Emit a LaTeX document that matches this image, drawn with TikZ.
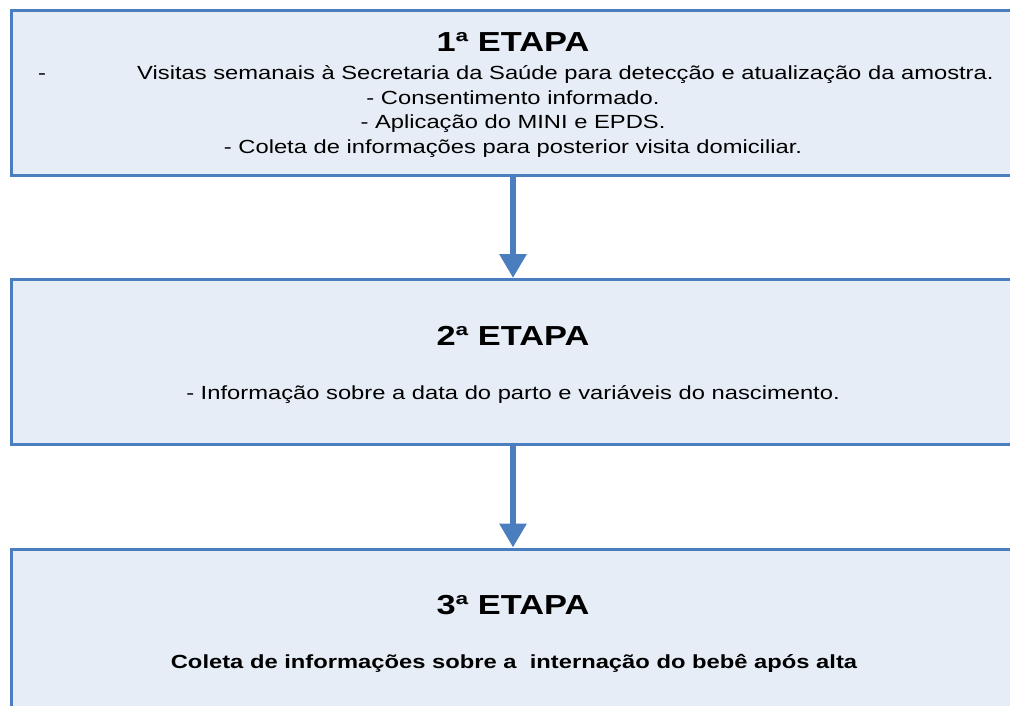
\documentclass[tikz,border=0pt]{standalone}
\usepackage{fontspec}
\setmainfont{Liberation Sans}[FakeStretch=1.25]
\usepackage{tikz}
\usetikzlibrary{arrows.meta,positioning}
\definecolor{caixa}{RGB}{230,237,246}
\definecolor{borda}{RGB}{74,126,191}

\begin{document}
\begin{tikzpicture}[x=1pt,y=-1pt,
 etapa/.style = {draw=borda, fill=caixa, line width=3pt, minimum width=1004pt,
  minimum height=165pt, inner sep=0pt},
 titulo/.style = {anchor=base, inner sep=0pt, font=\fontsize{27.5pt}{30pt}\selectfont\bfseries},
 texto/.style = {anchor=base, inner sep=0pt, font=\fontsize{19pt}{23pt}\selectfont},
 seta/.style = {draw=borda, line width=6.5pt, line cap=round, -{Triangle[width=26pt,length=24pt]}}]
\useasboundingbox (0,0) rectangle (1010,706);
\node[etapa] (e1) at (513,93.5) {};
\node[etapa] (e2) at (513,362) {};
\node[etapa] (e3) at (513,631.5) {};
% primeira etapa
\node[titulo] (t1) at (513,52) {1ª ETAPA};
\node[texto] (traco) at (42,80) {-};
\node[texto, anchor=base west] (l1) at (137,80) {Visitas semanais à Secretaria da Saúde para detecção e atualização da amostra.};
\node[texto] (l2) at (513,105) {- Consentimento informado.};
\node[texto] (l3) at (513,129) {- Aplicação do MINI e EPDS.};
\node[texto] (l4) at (513,154) {- Coleta de informações para posterior visita domiciliar.};
% segunda etapa
\node[titulo] (t2) at (513,345) {2ª ETAPA};
\node[texto] (l5) at (513,399) {- Informação sobre a data do parto e variáveis do nascimento.};
% terceira etapa
\node[titulo] (t3) at (513,614) {3ª ETAPA};
\node[texto, font=\fontsize{19pt}{22pt}\selectfont\bfseries] (l6) at (514,668) {Coleta de informações sobre a \ internação do bebê após alta};
\draw[seta] (e1.south) -- (e2.north);
\draw[seta] (e2.south) -- (e3.north);
\end{tikzpicture}
\end{document}
